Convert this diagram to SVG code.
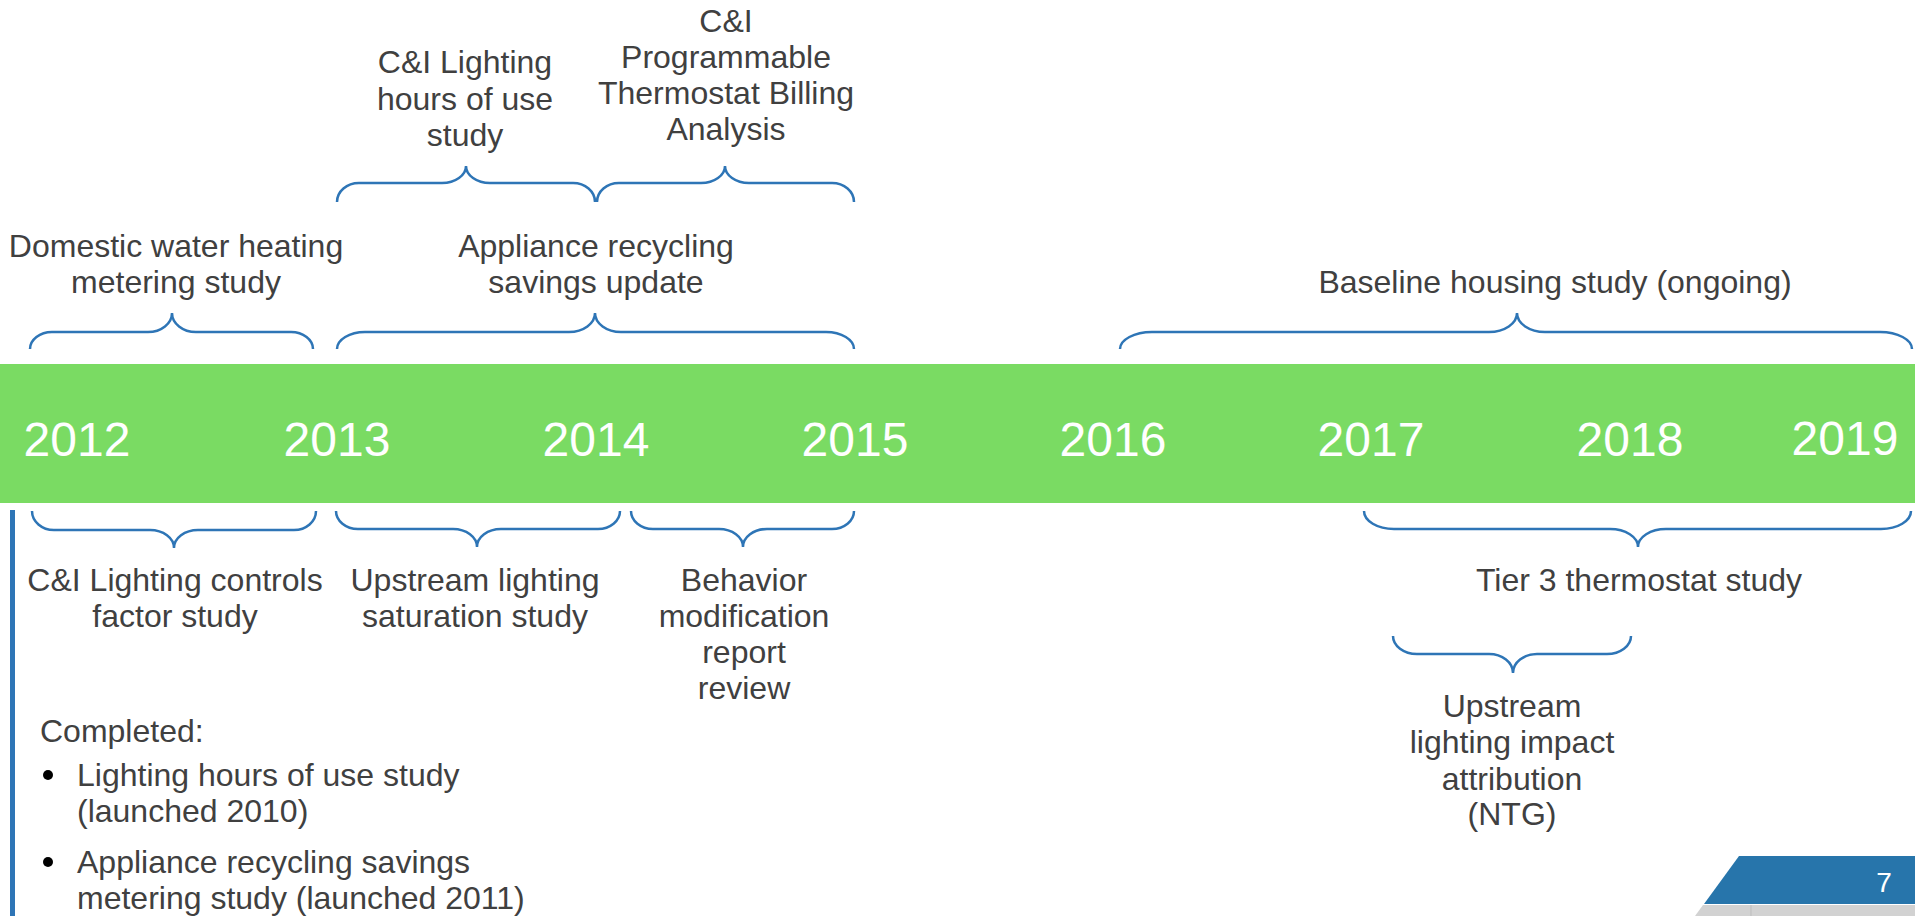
<svg xmlns="http://www.w3.org/2000/svg" width="1915" height="916" viewBox="0 0 1915 916">
<style>
.t{font-family:"Liberation Sans",Arial,sans-serif;font-size:32px;fill:#404040;text-anchor:middle}
.l{text-anchor:start}
.yr{font-family:"Liberation Sans",Arial,sans-serif;font-size:48px;fill:#ffffff;text-anchor:middle}
.br{fill:none;stroke:#2E75B6;stroke-width:2.5}
</style>
<rect x="0" y="0" width="1915" height="916" fill="#ffffff"/>
<g id="timeline">
<rect x="0" y="364" width="1915" height="139" fill="#7ADB63"/>
<text class="yr" x="77" y="456">2012</text>
<text class="yr" x="337" y="456">2013</text>
<text class="yr" x="596" y="456">2014</text>
<text class="yr" x="855" y="456">2015</text>
<text class="yr" x="1113" y="456">2016</text>
<text class="yr" x="1371" y="456">2017</text>
<text class="yr" x="1630" y="456">2018</text>
<text class="yr" x="1845" y="455">2019</text>
</g>
<g id="connectors">
<path class="br" d="M30 349 A22 17 0 0 1 52 332 L148 332 A24 19 0 0 0 172 313 A24 19 0 0 0 196 332 L291 332 A22 17 0 0 1 313 349"/>
<path class="br" d="M337 349 A28 17 0 0 1 365 332 L569 332 A26 19 0 0 0 595 313 A26 19 0 0 0 621 332 L826 332 A28 17 0 0 1 854 349"/>
<path class="br" d="M1120 349 A32 17 0 0 1 1152 332 L1489 332 A28 19 0 0 0 1517 313 A28 19 0 0 0 1545 332 L1880 332 A32 17 0 0 1 1912 349"/>
<path class="br" d="M337 202 A22 19 0 0 1 359 183 L442 183 A24 17 0 0 0 466 166 A24 17 0 0 0 490 183 L573 183 A22 19 0 0 1 595 202"/>
<path class="br" d="M597 202 A22 19 0 0 1 619 183 L701 183 A24 17 0 0 0 725 166 A24 17 0 0 0 749 183 L832 183 A22 19 0 0 1 854 202"/>
<path class="br" d="M32 511 A22 19 0 0 0 54 530 L150 530 A24 18 0 0 1 174 548 A24 18 0 0 1 198 530 L294 530 A22 19 0 0 0 316 511"/>
<path class="br" d="M336 511 A22 18 0 0 0 358 529 L453 529 A24 18 0 0 1 477 547 A24 18 0 0 1 501 529 L598 529 A22 18 0 0 0 620 511"/>
<path class="br" d="M631 511 A22 18 0 0 0 653 529 L719 529 A24 18 0 0 1 743 547 A24 18 0 0 1 767 529 L832 529 A22 18 0 0 0 854 511"/>
<path class="br" d="M1364 511 A30 18 0 0 0 1394 529 L1610 529 A28 18 0 0 1 1638 547 A28 18 0 0 1 1666 529 L1881 529 A30 18 0 0 0 1911 511"/>
<path class="br" d="M1393 636 A24 18 0 0 0 1417 654 L1489 654 A24 19 0 0 1 1513 673 A24 19 0 0 1 1537 654 L1607 654 A24 18 0 0 0 1631 636"/>
<rect x="10" y="510" width="5" height="406" fill="#2E75B6"/>
</g>
<g id="n-domestic"><text class="t" x="176" y="257">Domestic water heating</text><text class="t" x="176" y="293">metering study</text></g>
<g id="n-appliance"><text class="t" x="596" y="257">Appliance recycling</text><text class="t" x="596" y="293">savings update</text></g>
<g id="n-cilighting"><text class="t" x="465" y="73">C&amp;I Lighting</text><text class="t" x="465" y="110">hours of use</text><text class="t" x="465" y="146">study</text></g>
<g id="n-thermostat"><text class="t" x="726" y="32">C&amp;I</text><text class="t" x="726" y="68">Programmable</text><text class="t" x="726" y="104">Thermostat Billing</text><text class="t" x="726" y="140">Analysis</text></g>
<g id="n-baseline"><text class="t" x="1555" y="293">Baseline housing study (ongoing)</text></g>
<g id="n-controls"><text class="t" x="175" y="591">C&amp;I Lighting controls</text><text class="t" x="175" y="627">factor study</text></g>
<g id="n-upstream-sat"><text class="t" x="475" y="591">Upstream lighting</text><text class="t" x="475" y="627">saturation study</text></g>
<g id="n-behavior"><text class="t" x="744" y="591">Behavior</text><text class="t" x="744" y="627">modification</text><text class="t" x="744" y="663">report</text><text class="t" x="744" y="699">review</text></g>
<g id="n-tier3"><text class="t" x="1639" y="591">Tier 3 thermostat study</text></g>
<g id="n-ntg"><text class="t" x="1512" y="717">Upstream</text><text class="t" x="1512" y="753">lighting impact</text><text class="t" x="1512" y="790">attribution</text><text class="t" x="1512" y="825">(NTG)</text></g>
<g id="n-completed">
<text class="t l" x="40" y="742">Completed:</text>
<circle cx="48" cy="775" r="5" fill="#000000"/>
<text class="t l" x="77" y="786">Lighting hours of use study</text>
<text class="t l" x="77" y="822">(launched 2010)</text>
<circle cx="48" cy="862" r="5" fill="#000000"/>
<text class="t l" x="77" y="873">Appliance recycling savings</text>
<text class="t l" x="77" y="909">metering study (launched 2011)</text>
</g>
<g id="page-number">
<polygon points="1739,856 1915,856 1915,904 1704,904" fill="#2775AB"/>
<polygon points="1703,905 1915,905 1915,916 1695,916" fill="#D2D2D2"/>
<line x1="1751" y1="905" x2="1751" y2="916" stroke="#BDBDBD" stroke-width="1"/>
<text x="1884" y="892" font-family="Liberation Sans, Arial, sans-serif" font-size="28" fill="#ffffff" text-anchor="middle">7</text>
</g>
</svg>
